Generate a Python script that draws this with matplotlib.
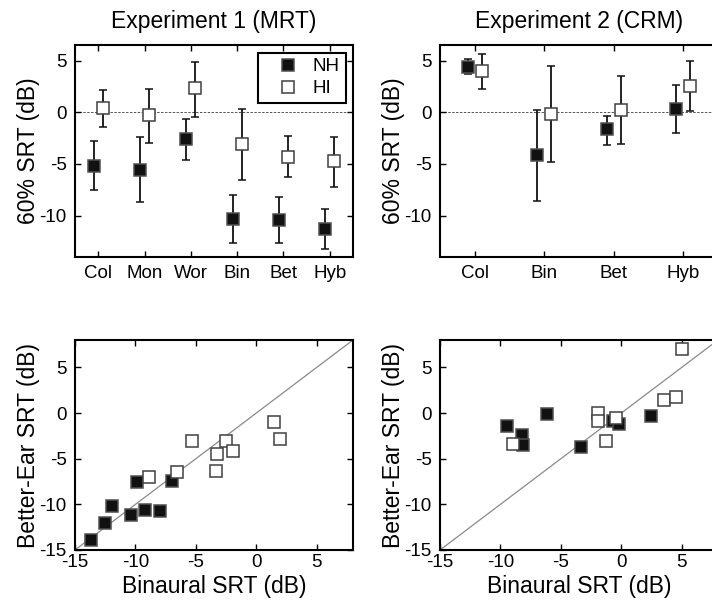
import matplotlib
matplotlib.use("Agg")
import matplotlib.pyplot as plt
from matplotlib.lines import Line2D
import numpy as np

plt.rcParams['font.family'] = ['Liberation Sans', 'DejaVu Sans']
plt.rcParams['axes.unicode_minus'] = False

# ---------------- data ----------------
exp1_cats = ["Col", "Mon", "Wor", "Bin", "Bet", "Hyb"]
exp1_nh_mean = [-5.2, -5.6, -2.6, -10.3, -10.4, -11.3]
exp1_nh_lo   = [-7.5, -8.65, -4.6, -12.6, -12.6, -13.2]
exp1_nh_hi   = [-2.8, -2.4, -0.7, -8.0, -8.2, -9.4]
exp1_hi_mean = [0.45, -0.3, 2.3, -3.1, -4.3, -4.75]
exp1_hi_lo   = [-1.4, -2.95, -0.45, -6.6, -6.3, -7.25]
exp1_hi_hi   = [2.15, 2.25, 4.85, 0.3, -2.3, -2.35]

exp2_cats = ["Col", "Bin", "Bet", "Hyb"]
exp2_nh_mean = [4.4, -4.1, -1.65, 0.35]
exp2_nh_lo   = [3.65, -8.55, -3.15, -2.0]
exp2_nh_hi   = [5.1, 0.25, -0.35, 2.65]
exp2_hi_mean = [4.0, -0.15, 0.25, 2.55]
exp2_hi_lo   = [2.25, -4.8, -3.05, 0.15]
exp2_hi_hi   = [5.65, 4.5, 3.5, 4.95]

# scatter: binaural vs better-ear SRT
exp1_nh_bin = [-13.7, -12.5, -11.9, -10.35, -9.9, -9.2, -8.0, -7.0]
exp1_nh_be  = [-13.85, -12.0, -10.2, -11.2, -7.5, -10.65, -10.75, -7.4]
exp1_hi_bin = [-8.85, -6.55, -5.3, -2.5, -3.25, -1.9, -3.3, 1.5, 2.0]
exp1_hi_be  = [-7.05, -6.5, -3.05, -3.05, -4.5, -4.2, -6.3, -0.95, -2.85]

exp2_nh_bin = [-9.45, -8.25, -8.1, -6.15, -3.3, -0.65, -0.15, 2.45]
exp2_nh_be  = [-1.4, -2.45, -3.5, -0.15, -3.7, -0.85, -1.15, -0.35]
exp2_hi_bin = [-9.0, -1.95, -1.95, -1.3, -0.4, 3.55, 4.5, 5.05]
exp2_hi_be  = [-3.35, -0.05, -0.85, -3.1, -0.5, 1.4, 1.8, 7.05]

titles = ["Experiment 1 (MRT)", "Experiment 2 (CRM)"]
ylabel_top = "60% SRT (dB)"
ylabel_bot = "Better-Ear SRT (dB)"
xlabel_bot = "Binaural SRT (dB)"
series = ["NH", "HI"]

# ---------------- style ----------------
W, H = 712, 601
fig = plt.figure(figsize=(W / 100, H / 100), dpi=100)

def ax_px(l, t, r, b):
    return fig.add_axes([l / W, 1 - b / H, (r - l) / W, (b - t) / H])

TICK_FS = 13.5
LAB_FS = 16.5
NH_FACE, NH_EDGE = "#111111", "#505050"
HI_FACE, HI_EDGE = "white", "#404040"
MS, MEW = 8.0, 1.1

def style(ax):
    for s in ax.spines.values():
        s.set_linewidth(1.5)
        s.set_color("black")
    ax.tick_params(direction="in", length=4, width=1.0, top=True, right=True,
                   labelsize=TICK_FS, pad=6, colors="black")

def top_panel(ax, cats, nm, nlo, nhi, hm, hlo, hhi, title):
    x = np.arange(1, len(cats) + 1)
    off = 0.1
    ax.axhline(0, color="#555555", lw=0.7, ls=(0, (2.5, 1.5)), zorder=1)
    nm = np.array(nm); hm = np.array(hm)
    ax.errorbar(x - off, nm, yerr=[nm - np.array(nlo), np.array(nhi) - nm],
                fmt="s", ms=MS, mfc=NH_FACE, mec=NH_EDGE, mew=MEW,
                ecolor="#111111", elinewidth=1.3, capsize=2.8, capthick=1.3, zorder=3)
    ax.errorbar(x + off, hm, yerr=[hm - np.array(hlo), np.array(hhi) - hm],
                fmt="s", ms=MS, mfc=HI_FACE, mec=HI_EDGE, mew=MEW,
                ecolor="#111111", elinewidth=1.3, capsize=2.8, capthick=1.3, zorder=3)
    ax.set_xlim(0.5, len(cats) + 0.5)
    ax.set_ylim(-14, 6.5)
    ax.set_xticks(x)
    ax.set_xticklabels(cats)
    ax.set_yticks([-10, -5, 0, 5])
    ax.set_ylabel(ylabel_top, fontsize=LAB_FS, labelpad=-0.5)
    ax.set_title(title, fontsize=LAB_FS, pad=12)
    style(ax)

def bot_panel(ax, nb, ne, hb, he):
    ax.plot([-15, 8], [-15, 8], color="#8a8a8a", lw=0.9, zorder=1)
    ax.plot(nb, ne, "s", ms=MS, mfc=NH_FACE, mec=NH_EDGE, mew=MEW, zorder=3)
    ax.plot(hb, he, "s", ms=MS, mfc=HI_FACE, mec=HI_EDGE, mew=MEW, zorder=3)
    ax.set_xlim(-15, 8)
    ax.set_ylim(-15, 8)
    ax.set_xticks([-15, -10, -5, 0, 5])
    ax.set_yticks([-15, -10, -5, 0, 5])
    ax.set_xlabel(xlabel_bot, fontsize=LAB_FS, labelpad=3)
    ax.set_ylabel(ylabel_bot, fontsize=LAB_FS, labelpad=-0.5)
    style(ax)
    ax.tick_params(axis="x", pad=3)

ax1 = ax_px(75, 45, 353, 257)
ax2 = ax_px(440, 45, 718, 257)
ax3 = ax_px(75, 340, 353, 550)
ax4 = ax_px(440, 340, 718, 550)

top_panel(ax1, exp1_cats, exp1_nh_mean, exp1_nh_lo, exp1_nh_hi,
          exp1_hi_mean, exp1_hi_lo, exp1_hi_hi, titles[0])
top_panel(ax2, exp2_cats, exp2_nh_mean, exp2_nh_lo, exp2_nh_hi,
          exp2_hi_mean, exp2_hi_lo, exp2_hi_hi, titles[1])
bot_panel(ax3, exp1_nh_bin, exp1_nh_be, exp1_hi_bin, exp1_hi_be)
bot_panel(ax4, exp2_nh_bin, exp2_nh_be, exp2_hi_bin, exp2_hi_be)

handles = [Line2D([], [], ls="none", marker="s", ms=MS, mfc=NH_FACE, mec=NH_EDGE, mew=MEW),
           Line2D([], [], ls="none", marker="s", ms=MS, mfc=HI_FACE, mec=HI_EDGE, mew=MEW)]
leg = ax1.legend(handles, series, loc="upper right", fontsize=TICK_FS, frameon=True,
                 fancybox=False, edgecolor="black", framealpha=1, borderpad=0.3,
                 handlelength=2.6, handletextpad=0.05, labelspacing=0.25,
                 borderaxespad=0.4)
leg.get_frame().set_linewidth(1.5)
leg.set_zorder(5)

fig.savefig("out.png", dpi=100)
